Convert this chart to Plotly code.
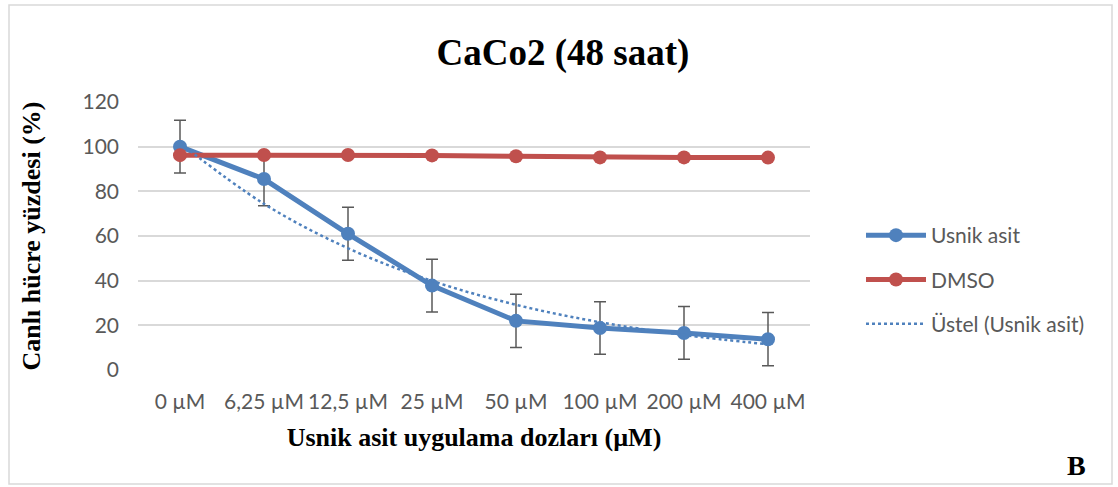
import plotly.graph_objects as go

# ---- data ----
doses = ["0 µM", "6,25 µM", "12,5 µM", "25 µM", "50 µM", "100 µM", "200 µM", "400 µM"]
usnik = [100.0, 85.5, 61.0, 37.8, 22.0, 18.8, 16.6, 13.8]
usnik_err = [11.8, 11.9, 11.9, 11.8, 11.9, 11.8, 11.8, 11.9]
dmso = [96.2, 96.3, 96.3, 96.1, 95.7, 95.2, 95.2, 95.1]
trend = [101.6, 74.4, 54.5, 39.9, 29.2, 21.4, 15.7, 11.5]
y_ticks = [0, 20, 40, 60, 80, 100, 120]

W, H = 1118, 487
L, R, T, B = 138, 308, 102, 117
pw, ph = W - L - R, H - T - B

BLUE = "#4F81BD"
RED = "#C0504D"
GRID = "#D9D9D9"
TXT = "#595959"
SANS = "Lato, Open Sans, sans-serif"
SERIF = "Liberation Serif, Times New Roman, serif"

fig = go.Figure()
fig.add_trace(go.Scatter(
    x=doses, y=usnik, name="Usnik asit", mode="lines+markers",
    line=dict(color=BLUE, width=5), marker=dict(color=BLUE, size=14),
    error_y=dict(type="data", array=usnik_err, visible=True, color="#595959",
                 thickness=1.5, width=6),
    legendgroup="a"))
fig.add_trace(go.Scatter(
    x=doses, y=dmso, name="DMSO", mode="lines+markers",
    line=dict(color=RED, width=5), marker=dict(color=RED, size=14),
    legendgroup="b"))
fig.add_trace(go.Scatter(
    x=doses, y=trend, name="Üstel (Usnik asit)", mode="lines",
    line=dict(color=BLUE, width=2.5, dash="dot", shape="spline"),
    legendgroup="c"))

def px_to_paper_x(px):
    return (px - L) / pw

def px_to_paper_y(py):
    return (H - B - py) / ph

fig.update_layout(
    width=W, height=H,
    margin=dict(l=L, r=R, t=T, b=B),
    paper_bgcolor="white", plot_bgcolor="white",
    showlegend=True,
    title=dict(text="<b>CaCo2 (48 saat)</b>", x=px_to_paper_x(563), xref="paper",
               xanchor="center", y=1 - 52 / H, yanchor="middle",
               font=dict(family=SERIF, size=37, color="black")),
    legend=dict(x=px_to_paper_x(861), xanchor="left", y=px_to_paper_y(215), yanchor="top",
                font=dict(family=SANS, size=21, color=TXT),
                traceorder="grouped", tracegroupgap=14, itemwidth=60,
                bgcolor="rgba(0,0,0,0)"),
    xaxis=dict(type="category", range=[-0.5, 7.5], showgrid=False, showline=False,
               ticks="", tickfont=dict(family=SANS, size=21, color=TXT),
               ticklabelstandoff=17,
               title=dict(text="<b>Usnik asit uygulama dozları (µM)</b>", standoff=15,
                          font=dict(family=SERIF, size=26, color="black"))),
    yaxis=dict(range=[0, 120], tickvals=y_ticks, showgrid=True, gridcolor=GRID, gridwidth=1.5,
               zeroline=False, showline=False, ticks="",
               tickfont=dict(family=SANS, size=21, color=TXT), ticklabelstandoff=18,
               title=dict(text="<b>Canlı hücre yüzdesi (%)</b>", standoff=34,
                          font=dict(family=SERIF, size=26, color="black"))),
    shapes=[dict(type="rect", xref="paper", yref="paper",
                 x0=px_to_paper_x(9), x1=px_to_paper_x(1112),
                 y0=px_to_paper_y(484), y1=px_to_paper_y(5),
                 line=dict(color=GRID, width=1.5), fillcolor="rgba(0,0,0,0)", layer="below")],
    annotations=[dict(text="<b>B</b>", xref="paper", yref="paper",
                      x=px_to_paper_x(1076), y=px_to_paper_y(465),
                      xanchor="center", yanchor="middle", showarrow=False,
                      font=dict(family=SERIF, size=28, color="black"))],
)

fig.write_html("out.html")
